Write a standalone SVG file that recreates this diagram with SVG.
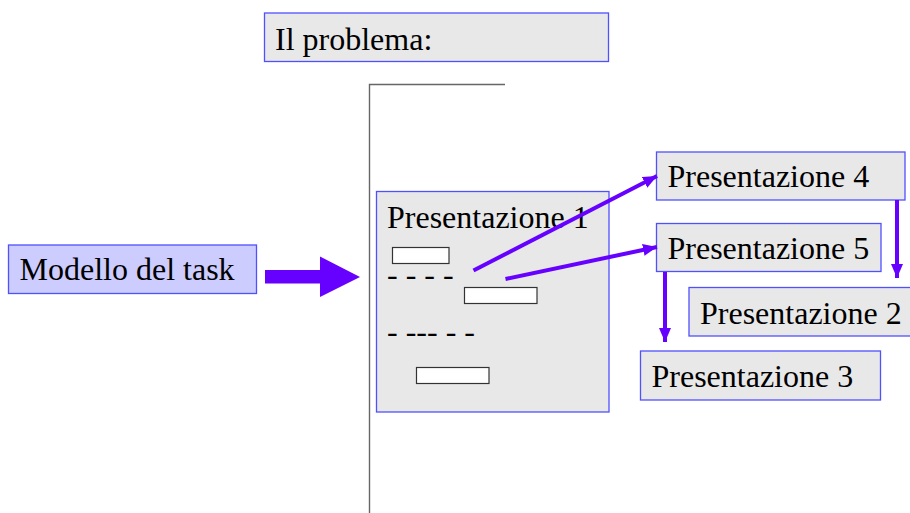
<svg xmlns="http://www.w3.org/2000/svg" width="910" height="513" viewBox="0 0 910 513">
<style>
.box{fill:#e8e8e8;stroke:#5050ff;stroke-width:1.3}
.blue{fill:#ccccff;stroke:#5050ff;stroke-width:1.3}
.t{font-family:'Liberation Serif','Times New Roman','DejaVu Serif',Tinos,serif;font-size:32px;fill:#000}
.w{fill:#fff;stroke:#333;stroke-width:1.2}
.c{stroke:#6600ff;stroke-width:4;fill:none;marker-end:url(#ah)}
</style>
<defs>
<marker id="ah" markerUnits="userSpaceOnUse" markerWidth="14" markerHeight="12" refX="14" refY="6" orient="auto">
<path d="M0,0 L14,6 L0,12 z" fill="#6600ff"/>
</marker>
</defs>
<rect width="910" height="513" fill="#fff"/>
<g id="problema">
<rect class="box" x="264.5" y="13" width="344" height="48.5"/>
<text class="t" x="275" y="50">Il problema:</text>
</g>
<g id="bracket">
<path d="M505,84.5 H369.5 V513" fill="none" stroke="#666" stroke-width="1.4"/>
</g>
<g id="modello">
<rect class="blue" x="8.5" y="245" width="248" height="48.5"/>
<text class="t" x="19.5" y="280">Modello del task</text>
</g>
<g id="pres1">
<rect class="box" x="376.5" y="191.5" width="232.5" height="220.5"/>
<text class="t" x="387" y="228">Presentazione 1</text>
<rect class="w" x="392.5" y="247.5" width="56.5" height="16"/>
<text class="t" x="387" y="285">- - - -</text>
<rect class="w" x="464.5" y="287.5" width="72.5" height="16"/>
<text class="t" x="387" y="342">- --- - -</text>
<rect class="w" x="416.5" y="367.5" width="72.5" height="16"/>
</g>
<g id="pres4">
<rect class="box" x="656.5" y="152" width="248.5" height="48"/>
<text class="t" x="667.5" y="187">Presentazione 4</text>
</g>
<g id="pres5">
<rect class="box" x="656.5" y="223.5" width="224.5" height="48"/>
<text class="t" x="667.5" y="259">Presentazione 5</text>
</g>
<g id="pres2">
<rect class="box" x="689" y="287.5" width="230" height="48.5"/>
<text class="t" x="700" y="323.5">Presentazione 2</text>
</g>
<g id="pres3">
<rect class="box" x="640.5" y="351" width="240" height="49"/>
<text class="t" x="651.5" y="387">Presentazione 3</text>
</g>
<g id="connectors">
<polygon points="265,270 320,270 320,256.5 360,277 320,297 320,283.5 265,283.5" fill="#6600ff"/>
<line class="c" x1="473.5" y1="270.5" x2="657" y2="176"/>
<line class="c" x1="505.5" y1="279" x2="657" y2="247"/>
<line class="c" x1="897" y1="200" x2="897" y2="278"/>
<line class="c" x1="665" y1="272" x2="665" y2="342"/>
</g>
</svg>
